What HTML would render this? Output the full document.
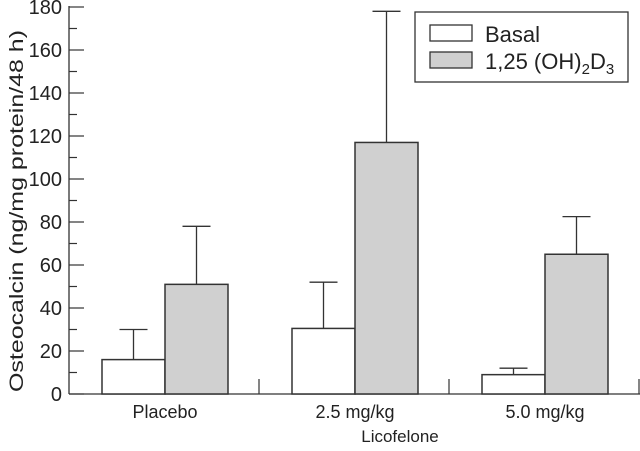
<!DOCTYPE html>
<html><head><meta charset="utf-8"><style>
body{margin:0;background:#fff}
svg text{font-family:"Liberation Sans",sans-serif;fill:#222}
</style></head><body>
<svg id="chart" width="640" height="446" xmlns="http://www.w3.org/2000/svg"></svg>
<script>
const categories=["Placebo","2.5 mg/kg","5.0 mg/kg"];
const basal=[16,30.5,9];
const basalErr=[30,52,12];
const vitd=[51,117,65];
const vitdErr=[78,178,82.5];
const yTicks=[0,20,40,60,80,100,120,140,160,180];
const NS="http://www.w3.org/2000/svg";
const svg=document.getElementById('chart');
const x0=69,y0=394,yTop=7,yMax=180;
const y=v=>y0-(v/yMax)*(y0-yTop);
const groupW=190,barW=63,firstBar=102;
function el(t,a,p){const e=document.createElementNS(NS,t);for(const k in a)e.setAttribute(k,a[k]);(p||svg).appendChild(e);return e;}
let ax=el('line',{x1:x0,y1:yTop-1,x2:x0,y2:y0,stroke:'#333','stroke-width':1.3});


let xa=el('line',{x1:x0,y1:y0,x2:640,y2:y0,stroke:'#333','stroke-width':1.3});


yTicks.forEach(t=>{
 const tk=el('line',{x1:x0,y1:y(t),x2:x0+15,y2:y(t),stroke:'#333','stroke-width':1.2});
 
 
 if(t<180){const m=el('line',{x1:x0,y1:y(t+10),x2:x0+8,y2:y(t+10),stroke:'#333','stroke-width':1.2});
 
 }
 const tx=el('text',{x:62,y:y(t)+7,'text-anchor':'end','font-size':20});
 tx.textContent=t;
 
 
});
for(let i=1;i<=3;i++){
 const d=el('line',{x1:x0+i*groupW,y1:y0-15,x2:x0+i*groupW,y2:y0,stroke:'#333','stroke-width':1.2});
 
 
}
function bar(x,v,e,fill,name){
 const cx=x+barW/2;
 const l=el('line',{x1:cx,y1:y(v),x2:cx,y2:y(e),stroke:'#333','stroke-width':1.3});
 
 
 const c=el('line',{x1:cx-14,y1:y(e),x2:cx+14,y2:y(e),stroke:'#333','stroke-width':1.3});
 
 
 const r=el('rect',{x:x,y:y(v),width:barW,height:y0-y(v),fill:fill,stroke:'#333','stroke-width':1.5});
 
 
}
categories.forEach((c,i)=>{
 const gx=firstBar+i*groupW;
 bar(gx,basal[i],basalErr[i],'#fff','basal');
 bar(gx+barW,vitd[i],vitdErr[i],'#d0d0d0','vitd');
 const t=el('text',{x:gx+barW,y:418,'text-anchor':'middle','font-size':18});
 t.textContent=c;
 
 
});
const xt=el('text',{x:400,y:442,'text-anchor':'middle','font-size':17});
xt.textContent='Licofelone';


const yt=el('text',{x:0,y:0,'text-anchor':'middle','font-size':19,textLength:362,lengthAdjust:'spacingAndGlyphs',transform:'translate(23,211) rotate(-90)'});
yt.textContent='Osteocalcin (ng/mg protein/48 h)';


</script>
<svg style="position:absolute;left:0;top:0" width="640" height="446">
<rect x="415" y="12" width="213" height="70" fill="#fff" stroke="#333" stroke-width="1.3"/>
<rect x="430" y="25" width="42" height="16" fill="#fff" stroke="#333" stroke-width="1.3"/>
<text x="485" y="42" font-size="22" font-family="Liberation Sans, sans-serif" fill="#222">Basal</text>
<rect x="430" y="52" width="42" height="16" fill="#d0d0d0" stroke="#333" stroke-width="1.3"/>
<text x="485" y="69" font-size="22" font-family="Liberation Sans, sans-serif" fill="#222">1,25 (OH)<tspan font-size="15" dy="5">2</tspan><tspan dy="-5">D</tspan><tspan font-size="15" dy="5">3</tspan></text>
</svg>
</body></html>
